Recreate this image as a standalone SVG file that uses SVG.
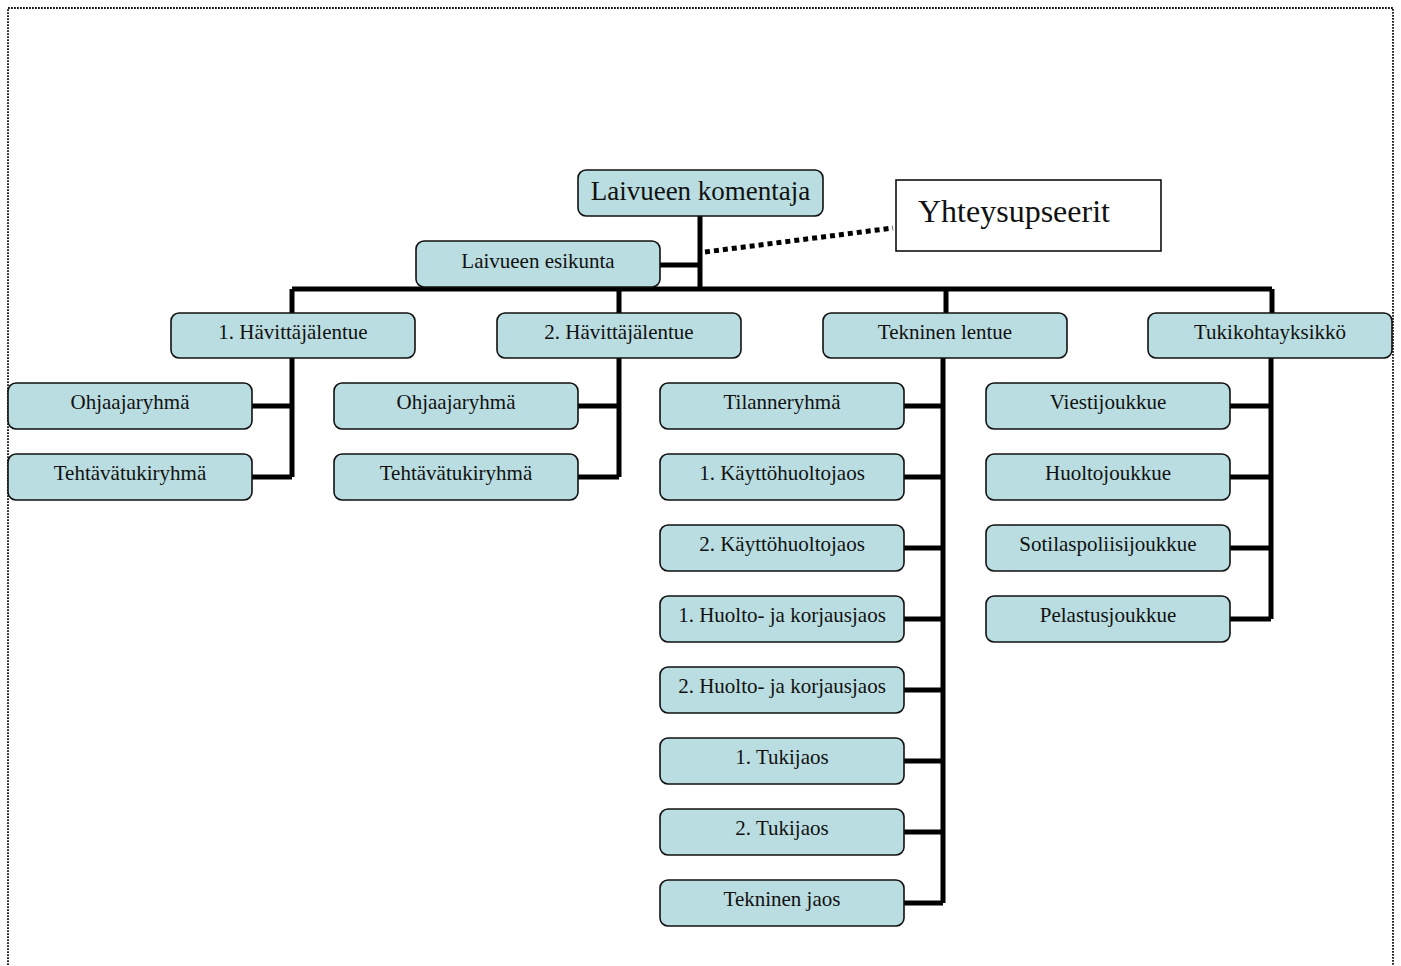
<svg xmlns="http://www.w3.org/2000/svg" width="1401" height="966" viewBox="0 0 1401 966">
<style>
.b{fill:#b9dde0;stroke:#111;stroke-width:1.6}
.t{font-family:"Liberation Serif",serif;font-size:21px;fill:#111;text-anchor:middle}
.c{fill:none;stroke:#000;stroke-width:5}
</style>
<rect width="1401" height="966" fill="#fff"/>
<rect x="8" y="8" width="1385" height="970" fill="none" stroke="#111" stroke-width="1.8" stroke-dasharray="1.8,1.2"/>
<g id="connectors">
<path class="c" d="M700 216V290M660 265H700M292 289H1272M292 289V313M619 289V313M946 289V313M1272 289V313"/>
<path class="c" d="M292 358V477M252 406H292M252 477H292"/>
<path class="c" d="M619 358V477M578 406H619M578 477H619"/>
<path class="c" d="M943 358V903M904 406H943M904 477H943M904 548H943M904 619H943M904 690H943M904 761H943M904 832H943M904 903H943"/>
<path class="c" d="M1271 358V619M1230 406H1271M1230 477H1271M1230 548H1271M1230 619H1271"/>
<path d="M705 252L893 228" fill="none" stroke="#000" stroke-width="5" stroke-dasharray="5,4"/>
</g>
<g id="n-komentaja"><rect class="b" x="578" y="170" width="245" height="46" rx="8"/><text class="t" x="700.5" y="200" style="font-size:27px">Laivueen komentaja</text></g>
<g id="n-yhteys"><rect x="896" y="180" width="265" height="71" fill="#fff" stroke="#000" stroke-width="1.5"/><text x="918" y="222" style="font-family:'Liberation Serif',serif;font-size:32px;fill:#111">Yhteysupseerit</text></g>
<g id="n-esikunta"><rect class="b" x="416" y="241" width="244" height="46" rx="8"/><text class="t" x="538" y="268">Laivueen esikunta</text></g>
<g id="n-hl1"><rect class="b" x="171" y="313" width="244" height="45" rx="8"/><text class="t" x="293" y="339">1. Hävittäjälentue</text></g>
<g id="n-hl2"><rect class="b" x="497" y="313" width="244" height="45" rx="8"/><text class="t" x="619" y="339">2. Hävittäjälentue</text></g>
<g id="n-tek"><rect class="b" x="823" y="313" width="244" height="45" rx="8"/><text class="t" x="945" y="339">Tekninen lentue</text></g>
<g id="n-tuki"><rect class="b" x="1148" y="313" width="244" height="45" rx="8"/><text class="t" x="1270" y="339">Tukikohtayksikkö</text></g>
<g id="n-ohj1"><rect class="b" x="8" y="383" width="244" height="46" rx="8"/><text class="t" x="130" y="409">Ohjaajaryhmä</text></g>
<g id="n-teh1"><rect class="b" x="8" y="454" width="244" height="46" rx="8"/><text class="t" x="130" y="480">Tehtävätukiryhmä</text></g>
<g id="n-ohj2"><rect class="b" x="334" y="383" width="244" height="46" rx="8"/><text class="t" x="456" y="409">Ohjaajaryhmä</text></g>
<g id="n-teh2"><rect class="b" x="334" y="454" width="244" height="46" rx="8"/><text class="t" x="456" y="480">Tehtävätukiryhmä</text></g>
<g id="n-til"><rect class="b" x="660" y="383" width="244" height="46" rx="8"/><text class="t" x="782" y="409">Tilanneryhmä</text></g>
<g id="n-kh1"><rect class="b" x="660" y="454" width="244" height="46" rx="8"/><text class="t" x="782" y="480">1. Käyttöhuoltojaos</text></g>
<g id="n-kh2"><rect class="b" x="660" y="525" width="244" height="46" rx="8"/><text class="t" x="782" y="551">2. Käyttöhuoltojaos</text></g>
<g id="n-hk1"><rect class="b" x="660" y="596" width="244" height="46" rx="8"/><text class="t" x="782" y="622">1. Huolto- ja korjausjaos</text></g>
<g id="n-hk2"><rect class="b" x="660" y="667" width="244" height="46" rx="8"/><text class="t" x="782" y="693">2. Huolto- ja korjausjaos</text></g>
<g id="n-tj1"><rect class="b" x="660" y="738" width="244" height="46" rx="8"/><text class="t" x="782" y="764">1. Tukijaos</text></g>
<g id="n-tj2"><rect class="b" x="660" y="809" width="244" height="46" rx="8"/><text class="t" x="782" y="835">2. Tukijaos</text></g>
<g id="n-tekj"><rect class="b" x="660" y="880" width="244" height="46" rx="8"/><text class="t" x="782" y="906">Tekninen jaos</text></g>
<g id="n-vies"><rect class="b" x="986" y="383" width="244" height="46" rx="8"/><text class="t" x="1108" y="409">Viestijoukkue</text></g>
<g id="n-huol"><rect class="b" x="986" y="454" width="244" height="46" rx="8"/><text class="t" x="1108" y="480">Huoltojoukkue</text></g>
<g id="n-soti"><rect class="b" x="986" y="525" width="244" height="46" rx="8"/><text class="t" x="1108" y="551">Sotilaspoliisijoukkue</text></g>
<g id="n-pela"><rect class="b" x="986" y="596" width="244" height="46" rx="8"/><text class="t" x="1108" y="622">Pelastusjoukkue</text></g>
</svg>
